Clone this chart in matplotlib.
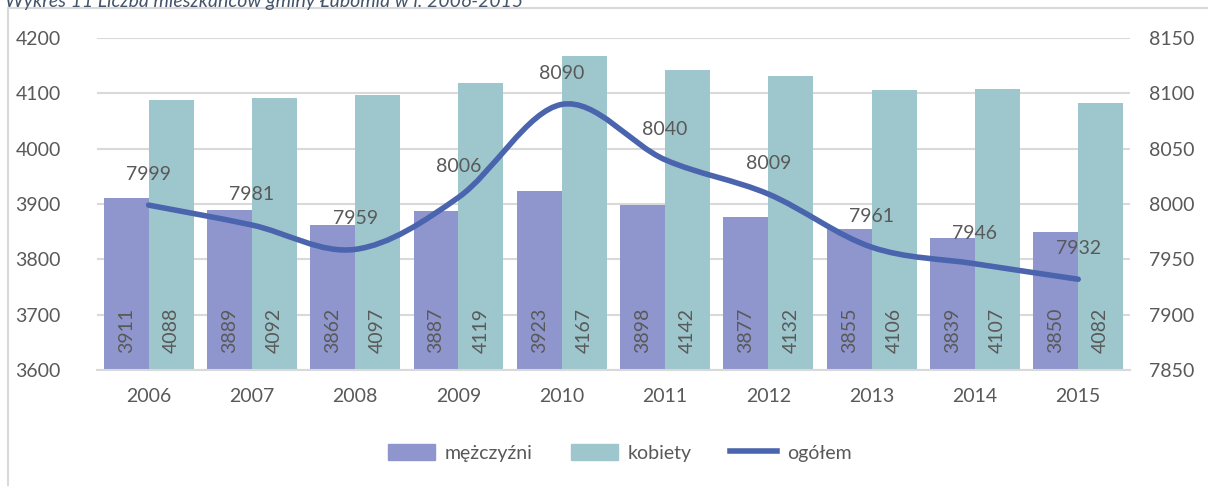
"""
    Liczba mieszkańców gminy Łubomia 2006-2015
"""

import numpy as np
import matplotlib.pyplot as plt
from matplotlib.patches import Rectangle
from matplotlib.path import Path
from matplotlib.patches import PathPatch
from matplotlib.lines import Line2D

years = ['2006', '2007', '2008', '2009', '2010', '2011', '2012', '2013', '2014', '2015']
men = [3911, 3889, 3862, 3887, 3923, 3898, 3877, 3855, 3839, 3850]
women = [4088, 4092, 4097, 4119, 4167, 4142, 4132, 4106, 4107, 4082]
total = [7999, 7981, 7959, 8006, 8090, 8040, 8009, 7961, 7946, 7932]

c_men = '#8F96CD'
c_women = '#9EC7CD'
c_line = '#4A64AE'
c_text = '#595959'
c_grid = '#D9D9D9'


def smooth_path(x, y, t=1/6):
    # Excel-like smoothed line: cubic bezier through points
    x = np.asarray(x, float)
    y = np.asarray(y, float)
    verts = [(x[0], y[0])]
    codes = [Path.MOVETO]
    n = len(x)
    for i in range(n - 1):
        p0 = np.array([x[max(i-1, 0)], y[max(i-1, 0)]])
        p1 = np.array([x[i], y[i]])
        p2 = np.array([x[i+1], y[i+1]])
        p3 = np.array([x[min(i+2, n-1)], y[min(i+2, n-1)]])
        c1 = p1 + (p2 - p0) * t
        c2 = p2 - (p3 - p1) * t
        verts += [tuple(c1), tuple(c2), tuple(p2)]
        codes += [Path.CURVE4] * 3
    return Path(verts, codes)


plt.rcParams['font.family'] = ['Lato', 'DejaVu Sans']
fs = 14

fig = plt.figure(figsize=(12.08, 4.86), dpi=100)
ax = fig.add_axes([0.0803, 0.2387, 0.855, 0.6831])
ax2 = ax.twinx()

# chart frame and cut-off caption
fig.patches.append(Rectangle((8/1208, -0.1), 1.2, 1 - 8/486 + 0.1, transform=fig.transFigure,
                             fill=False, edgecolor=c_grid, linewidth=1.5))
fig.text(5/1208, 1.0 - 1/486, 'Wykres 11 Liczba mieszkańców gminy Łubomia w l. 2006-2015',
         style='italic', color='#44546A', fontsize=14, va='center', ha='left')

x = np.arange(len(years))
w = 0.435
ax.bar(x - w/2, men, w, color=c_men, zorder=2)
ax.bar(x + w/2, women, w, color=c_women, zorder=2)

for i in range(len(years)):
    ax.annotate(str(men[i]), (x[i] - w/2, 3600), xytext=(0, 12), textcoords='offset points',
                rotation=90, ha='center', va='bottom', fontsize=fs, color=c_text, zorder=3)
    ax.annotate(str(women[i]), (x[i] + w/2, 3600), xytext=(0, 12), textcoords='offset points',
                rotation=90, ha='center', va='bottom', fontsize=fs, color=c_text, zorder=3)

ax.set_ylim(3600, 4200)
ax.set_yticks(np.arange(3600, 4201, 100))
ax.set_xlim(-0.5, len(years) - 0.5)
ax.set_xticks(x)
ax.set_xticklabels(years)
ax.yaxis.grid(True, color=c_grid, linewidth=1.5, zorder=0)
ax.set_axisbelow(True)

ax2.set_ylim(7850, 8150)
ax2.set_yticks(np.arange(7850, 8151, 50))
ax2.add_patch(PathPatch(smooth_path(x, total), fill=False, edgecolor=c_line,
                        linewidth=4, capstyle='round', zorder=4))
for i in range(len(years)):
    ax2.annotate(str(total[i]), (x[i], total[i]), xytext=(0, 16), textcoords='offset points',
                 ha='center', va='bottom', fontsize=fs, color=c_text, zorder=5)

for a in (ax, ax2):
    for s in a.spines.values():
        s.set_visible(False)
    a.tick_params(length=0, labelsize=fs, colors=c_text, pad=12)
ax.spines['bottom'].set_visible(True)
ax.spines['bottom'].set_color(c_grid)
ax.spines['bottom'].set_linewidth(1.5)
ax.tick_params(axis='x', pad=13)
ax.tick_params(axis='y', pad=26)
ax2.tick_params(axis='y', pad=14)

handles = [Rectangle((0, 0), 1, 1, color=c_men),
           Rectangle((0, 0), 1, 1, color=c_women),
           Line2D([0], [0], color=c_line, linewidth=4)]
fig.legend(handles, ['mężczyźni', 'kobiety', 'ogółem'], loc='center', ncol=3,
           bbox_to_anchor=(0.513, 0.068), frameon=False, fontsize=fs,
           labelcolor=c_text, handlelength=2.4, handleheight=0.9, columnspacing=2.0,
           handletextpad=0.5)

plt.savefig('out.png', dpi=100)
